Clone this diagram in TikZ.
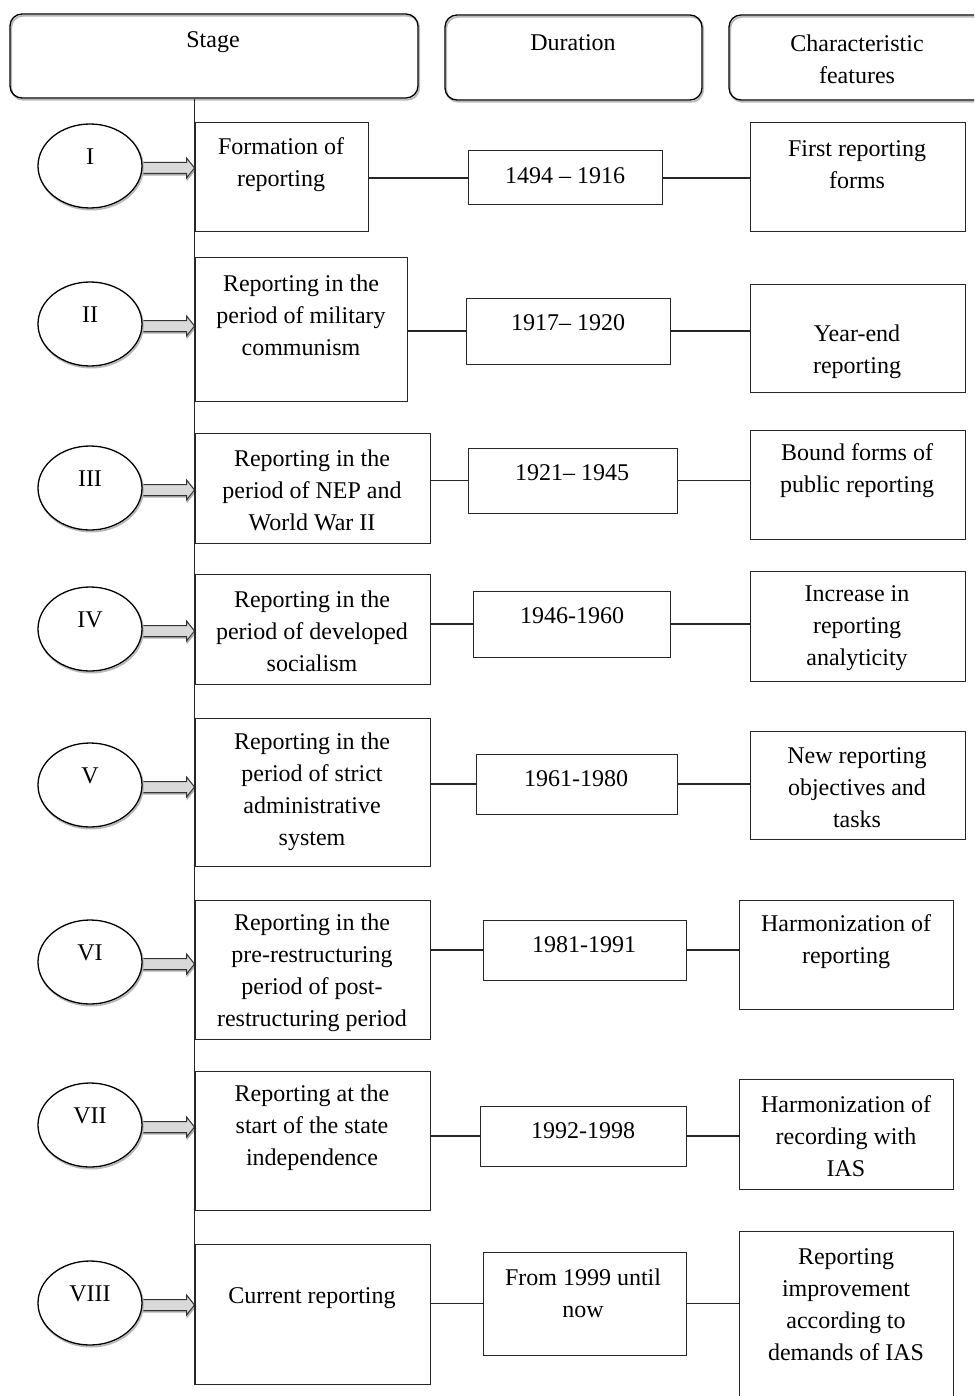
\documentclass[tikz,border=0pt]{standalone}
\usepackage{fontspec}
\setmainfont{Liberation Serif}
\usetikzlibrary{shapes.geometric,fit,calc,shadows,backgrounds}
\newcommand\stagearrow[2]{%
  \path (#1.east) ++(-3,2) coordinate (#1a);
  \path (#1a -| #2.west) coordinate (#1b);
  \draw[blockarr] ($(#1a)+(0,-5.5)$) -- ($(#1b)+(-8,-5.5)$) -- ($(#1b)+(-8,-10)$) -- (#1b) -- ($(#1b)+(-8,10)$) -- ($(#1b)+(-8,5.5)$) -- ($(#1a)+(0,5.5)$) -- cycle;
}
\newcommand\rowlinks[3]{%
  \draw[link] (#1.east |- #2.west) -- (#2.west);
  \draw[link] (#2.east) -- (#3.west |- #2.east);
}
\begin{document}
\begin{tikzpicture}[x=0.5pt,y=-0.5pt, font=\fontsize{12}{16}\selectfont,
  box/.style={draw=black!85, line width=0.5pt, inner sep=0pt},
  txt/.style={align=center, inner sep=0pt, yshift=-1pt},
  link/.style={line width=0.55pt, draw=black!85},
  hdr/.style={draw, rounded corners=6pt, line width=0.65pt, inner sep=0pt,
    general shadow={shadow xshift=0.6pt, shadow yshift=-0.9pt, draw=gray!55, line width=0.9pt}},
  oval/.style={ellipse, draw, line width=0.65pt, fill=white, minimum width=52pt, minimum height=42pt, inner sep=0pt,
    general shadow={shadow xshift=0.5pt, shadow yshift=-0.8pt, draw=gray!55, line width=0.9pt}},
  blockarr/.style={draw=black!80, fill=gray!30, line width=0.5pt,
    general shadow={shadow xshift=0.4pt, shadow yshift=-0.7pt, draw=gray!65, line width=0.8pt}}]
\useasboundingbox (0,0) rectangle (974,1396);
\clip (0,0) rectangle (974,1396);

% headers
\node[hdr, fit={(10,14) (418,98)}] (hStage) {};
\node[hdr, fit={(445,15) (702,100)}] (hDur) {};
\node[hdr, fit={(729,15) (995,100)}] (hChar) {};
\node[txt] (tStage) at (213,40) {Stage};
\node[txt] (tDur) at (573,41) {Duration};
\node[txt] (tChar) at (857,57) {Characteristic\\features};

% stage boxes
\node[box, fit={(195,123) (368,232)}] (sI) {};
\node[box, fit={(195,257) (407,401)}] (sII) {};
\node[box, fit={(195,433) (430,543)}] (sIII) {};
\node[box, fit={(195,574) (430,684)}] (sIV) {};
\node[box, fit={(195,718) (430,866)}] (sV) {};
\node[box, fit={(195,900) (430,1039)}] (sVI) {};
\node[box, fit={(195,1071) (430,1210)}] (sVII) {};
\node[box, fit={(195,1244) (430,1384)}] (sVIII) {};
\node[txt] at (281,162.5) {Formation of\\reporting};
\node[txt] at (301,313) {Reporting in the\\period of military\\communism};
\node[txt] at (312,488) {Reporting in the\\period of NEP and\\World War II};
\node[txt] at (312,629) {Reporting in the\\period of developed\\socialism};
\node[txt] at (312,790) {Reporting in the\\period of strict\\administrative\\system};
\node[txt] at (312,971) {Reporting in the\\pre-restructuring\\period of post-\\restructuring period};
\node[txt] at (312,1126) {Reporting at the\\start of the state\\independence};
\node[txt] at (312,1296) {Current reporting};

% duration boxes
\node[box, fit={(468,151) (662,205)}] (dI) {};
\node[box, fit={(466,298) (670,364)}] (dII) {};
\node[box, fit={(468,448) (677,513)}] (dIII) {};
\node[box, fit={(473,591) (670,657)}] (dIV) {};
\node[box, fit={(476,754) (677,814)}] (dV) {};
\node[box, fit={(483,920) (686,980)}] (dVI) {};
\node[box, fit={(480,1106) (686,1166)}] (dVII) {};
\node[box, fit={(483,1252) (686,1355)}] (dVIII) {};
\node[txt] at (565,174) {1494 -- 1916};
\node[txt] at (568,321) {1917-- 1920};
\node[txt] at (572,471) {1921-- 1945};
\node[txt] at (572,614) {1946-1960};
\node[txt] at (576,777) {1961-1980};
\node[txt] at (584,943) {1981-1991};
\node[txt] at (583,1129) {1992-1998};
\node[txt] at (583,1291) {From 1999 until\\now};

% feature boxes
\node[box, fit={(750,123) (965,232)}] (fI) {};
\node[box, fit={(750,284) (965,392)}] (fII) {};
\node[box, fit={(750,430) (965,539)}] (fIII) {};
\node[box, fit={(750,571) (965,681)}] (fIV) {};
\node[box, fit={(750,731) (965,839)}] (fV) {};
\node[box, fit={(739,900) (953,1009)}] (fVI) {};
\node[box, fit={(739,1079) (953,1189)}] (fVII) {};
\node[box, fit={(739,1231) (953,1420)}] (fVIII) {};
\node[txt] at (857,162.5) {First reporting\\forms};
\node[txt] at (857,349.5) {Year-end\\reporting};
\node[txt] at (857,469) {Bound forms of\\public reporting};
\node[txt] at (857,626) {Increase in\\reporting\\analyticity};
\node[txt] at (857,786) {New reporting\\objectives and\\tasks};
\node[txt] at (846,939.5) {Harmonization of\\reporting};
\node[txt] at (846,1134.5) {Harmonization of\\recording with\\IAS};
\node[txt] at (846,1302.5) {Reporting\\improvement\\according to\\demands of IAS};

% timeline
\draw[link] (hStage.south -| sI.west) -- (sVIII.south west);

% ovals
\foreach \n/\y in {I/166, II/324, III/488, IV/629, V/785, VI/962, VII/1125, VIII/1303}{
  \node[oval] (e\n) at (90,\y) {};
  \node[txt] at (90,\y-11) {\n};
}

% block arrows
\begin{scope}[on background layer]
\foreach \n in {I,II,III,IV,V,VI,VII,VIII}{
  \stagearrow{e\n}{s\n}
}
\end{scope}

% connectors
\foreach \n in {I,II,III,IV,V,VI,VII,VIII}{
  \rowlinks{s\n}{d\n}{f\n}
}
\end{tikzpicture}
\end{document}
